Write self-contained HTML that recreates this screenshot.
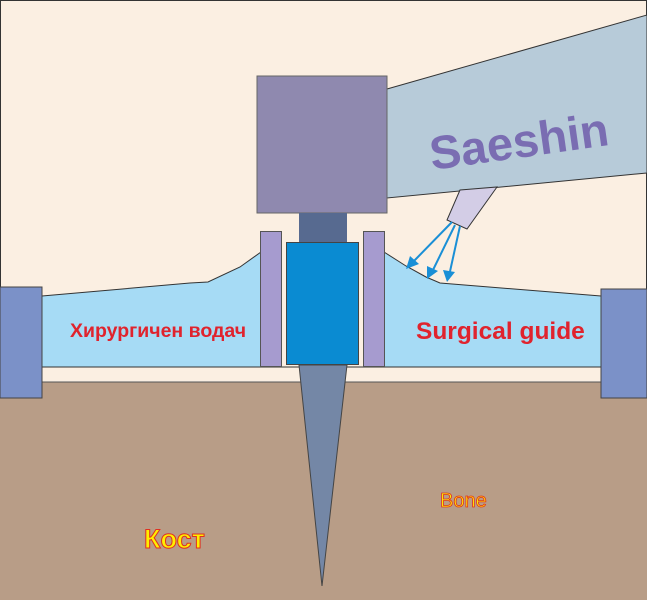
<!DOCTYPE html>
<html><head><meta charset="utf-8"><style>
html,body{margin:0;padding:0;background:#fbefe2;}
svg{display:block;}
</style></head><body>
<svg width="647" height="600" viewBox="0 0 647 600" xmlns="http://www.w3.org/2000/svg">
<rect x="0" y="0" width="647" height="600" fill="#fbefe2"/>
<rect x="0.5" y="0.5" width="646" height="599" fill="none" stroke="#333" stroke-width="1"/>
<rect x="0" y="382" width="647" height="218" fill="#b89d87"/>
<line x1="0" y1="382" x2="647" y2="382" stroke="#555" stroke-width="1"/>
<polygon points="387,89 647,15 647,173 387,198" fill="#b7cbd9" stroke="#333" stroke-width="1"/>
<text x="0" y="0" transform="translate(432,170) rotate(-8)" font-family="Liberation Sans, sans-serif" font-weight="bold" font-size="47" fill="#7a6db2">Saeshin</text>
<polygon points="460,190 497,187 467,229 447,220" fill="#d3cde6" stroke="#333" stroke-width="1"/>
<polygon points="42,296 190,283 208,282 240,267 261,252 261,367 42,367" fill="#a6dbf5"/>
<polyline points="42,296 190,283 208,282 240,267 261,252" fill="none" stroke="#333" stroke-width="1"/>
<polygon points="384,252 406,266 426,277 440,283 601,296 601,367 384,367" fill="#a6dbf5"/>
<polyline points="384,252 406,266 426,277 440,283 601,296" fill="none" stroke="#333" stroke-width="1"/>
<line x1="42" y1="367" x2="601" y2="367" stroke="#333" stroke-width="1"/>
<rect x="0" y="287" width="42" height="111" fill="#7b91c8" stroke="#444" stroke-width="1"/>
<rect x="601" y="289" width="46" height="109" fill="#7b91c8" stroke="#444" stroke-width="1"/>
<g stroke="#1a8fd6" stroke-width="2" fill="#1a8fd6">
<line x1="452" y1="222" x2="413" y2="262"/>
<line x1="455" y1="225" x2="432" y2="272"/>
<line x1="460" y1="226" x2="449" y2="276"/>
<polygon points="406,269 410,256 419,264" stroke="none"/>
<polygon points="427,279 427,266 438,271" stroke="none"/>
<polygon points="447,282 443,270 455,272" stroke="none"/>
</g>
<rect x="257" y="76" width="130" height="137" fill="#8f89af" stroke="#666" stroke-width="1"/>
<rect x="299" y="213" width="48" height="30" fill="#576a90"/>
<rect x="260.5" y="231.5" width="21" height="135" fill="#a69bcf" stroke="#555" stroke-width="1"/>
<rect x="363.5" y="231.5" width="21" height="135" fill="#a69bcf" stroke="#555" stroke-width="1"/>
<rect x="286.5" y="242.5" width="72" height="122" fill="#0a8bd2" stroke="#444" stroke-width="1"/>
<polygon points="299,365 347,365 322,586" fill="#7487a6" stroke="#444" stroke-width="1"/>
<text x="70" y="337" font-family="Liberation Sans, sans-serif" font-weight="bold" font-size="19.5" fill="#e0232d">Хирургичен водач</text>
<text x="416" y="339" font-family="Liberation Sans, sans-serif" font-weight="bold" font-size="24.5" fill="#e0232d">Surgical guide</text>
<text x="144" y="548" font-family="Liberation Sans, sans-serif" font-weight="bold" font-size="27" fill="#ffee00" stroke="#e03020" stroke-width="1">Кост</text>
<text x="440" y="507" font-family="Liberation Sans, sans-serif" font-size="20" fill="#ffee00" stroke="#e03020" stroke-width="0.8">Bone</text>
</svg>
</body></html>
